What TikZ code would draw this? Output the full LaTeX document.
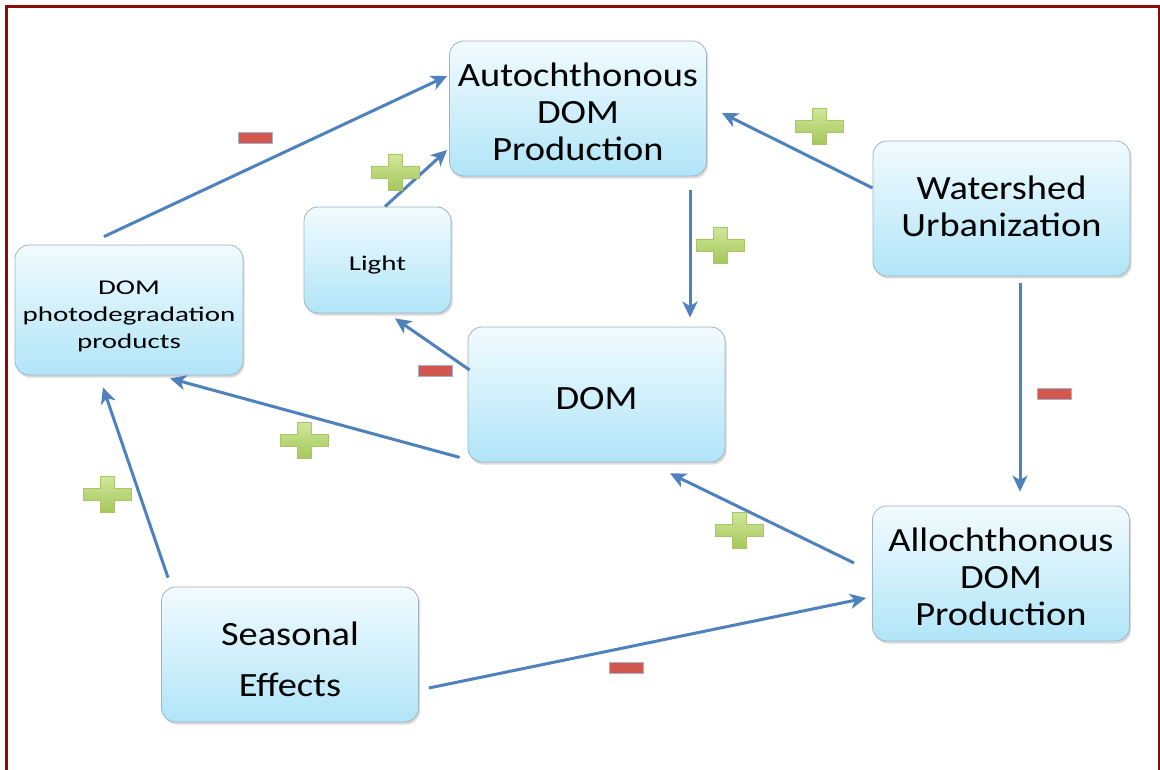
\documentclass[tikz,border=0pt]{standalone}
\usepackage{fontspec}
\setmainfont{Carlito}
\newfontfamily\bigfont[FakeStretch=1.13]{Carlito}
\newfontfamily\smallfont[FakeStretch=1.38]{Carlito}
\usetikzlibrary{shadows,arrows.meta,calc}
\definecolor{boxtop}{HTML}{F2FBFE}
\definecolor{boxbot}{HTML}{B0E5F8}
\definecolor{boxline}{HTML}{A0B4C4}
\definecolor{arrowblue}{HTML}{4F81BD}
\definecolor{framered}{HTML}{8B0A0A}
\definecolor{plustop}{HTML}{D0E79A}
\definecolor{plusbot}{HTML}{A5C85C}
\definecolor{plusline}{HTML}{A9C46A}
\definecolor{minusfill}{HTML}{D2574F}
\definecolor{minusline}{HTML}{A4B4CC}
\newcommand{\boxtext}[2]{\raisebox{#1}[\height][\depth]{\begin{tabular}{@{}c@{}}#2\end{tabular}}}
\begin{document}
\begin{tikzpicture}[x=1pt,y=-1pt,
  box/.style={rectangle, rounded corners=14pt, draw=boxline, line width=0.8pt,
    top color=boxtop, bottom color=boxbot,
    drop shadow={shadow xshift=1.5pt, shadow yshift=-2.5pt, opacity=0.25, fill=black!60},
    inner sep=0pt, text=black,
    minimum width=257pt, minimum height=135pt},
  bigbox/.style={box, font=\bigfont\fontsize{34}{37}\selectfont},
  smallbox/.style={box, font=\smallfont\fontsize{21}{27}\selectfont},
  conn/.style={draw=arrowblue, line width=3pt, -{Stealth[length=16pt,width=15pt,inset=4.5pt]}},
  plussign/.pic={\path[top color=plustop, bottom color=plusbot, draw=plusline, line width=0.6pt]
      (-7,-18) -- (7,-18) -- (7,-6) -- (24,-6) -- (24,6) -- (7,6) -- (7,18) -- (-7,18)
      -- (-7,6) -- (-24,6) -- (-24,-6) -- (-7,-6) -- cycle;},
  minussign/.pic={\path[fill=minusfill, draw=minusline, line width=0.8pt] (-17,-5.5) rectangle (17,5.5);}
]
\useasboundingbox (0,0) rectangle (1160,770);
\draw[framered, line width=3pt] (6,770) -- (6,7) -- (1159,7) -- (1159,770);

\node[bigbox] (auto) at (578,108.5) {\boxtext{-8pt}{Autochthonous\\DOM\\Production}};
\node[bigbox] (water) at (1001.5,208.5) {\boxtext{-2pt}{Watershed\\Urbanization}};
\node[smallbox, minimum width=147pt, minimum height=106pt] (light) at (377.5,260) {\boxtext{-5pt}{Light}};
\node[smallbox, minimum width=228pt, minimum height=130pt] (photo) at (129,310) {\boxtext{-6pt}{DOM\\photodegradation\\products}};
\node[bigbox] (dom) at (596.5,394.5) {\boxtext{-8pt}{DOM}};
\node[bigbox] (allo) at (1001,573.5) {\boxtext{-8pt}{Allochthonous\\DOM\\Production}};
\node[bigbox] (seas) at (290,654.5) {\boxtext{-9pt}{Seasonal\\[14pt]Effects}};

\draw[conn] ($(photo.north)+(-25,-8)$) -- ($(auto.west)+(-2,-32.5)$);
\draw[conn] ($(light.north)+(7.5,0)$) -- ($(auto.west)+(-2,41.5)$);
\draw[conn] ($(auto.south)+(112,14)$) -- ($(dom.north)+(93.5,-9)$);
\draw[conn] ($(water.west)+(0,-20.5)$) -- ($(auto.east)+(15,4.5)$);
\draw[conn] ($(water.south)+(18.5,7)$) -- ($(allo.north)+(19,-14)$);
\draw[conn] ($(dom.west)+(2,-24.5)$) -- ($(light.south)+(17.5,5)$);
\draw[conn] ($(dom.south west)+(-8,-5)$) -- ($(photo.south)+(41,3)$);
\draw[conn] ($(allo.west)+(-18,-10.5)$) -- ($(dom.south)+(73.5,11)$);
\draw[conn] ($(seas.north)+(-122,-9)$) -- ($(photo.south)+(-26,12)$);
\draw[conn] ($(seas.east)+(10,33.5)$) -- ($(allo.west)+(-6,24.5)$);

\pic at (255,138) {minussign};
\pic at (395,172) {plussign};
\pic at (819,126) {plussign};
\pic at (720,245) {plussign};
\pic at (435,371) {minussign};
\pic at (1054,394) {minussign};
\pic at (304,440) {plussign};
\pic at (107,494) {plussign};
\pic at (739,530) {plussign};
\pic at (626,668) {minussign};
\end{tikzpicture}
\end{document}
